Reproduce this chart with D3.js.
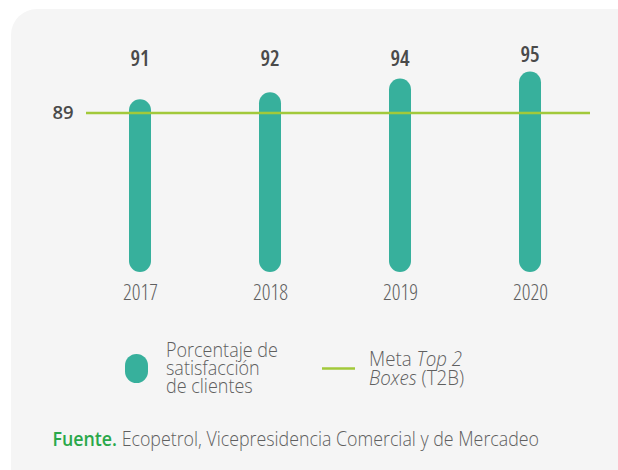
<!DOCTYPE html>
<html>
<head>
<meta charset="utf-8">
<script src="https://cdn.jsdelivr.net/npm/d3@7"></script>
<style>
  html, body { margin: 0; padding: 0; background: #ffffff; }
  svg { display: block; }
  text { font-family: "Open Sans", "Noto Sans", sans-serif; font-stretch: 75%; }
  text.semi { font-stretch: 88%; }
</style>
</head>
<body>
<svg id="chart" width="618" height="470"></svg>
<script>
// Satisfacción de clientes por año
const years = ["2017", "2018", "2019", "2020"];
const satisfaction = [91, 92, 94, 95];
const target = 89;
const legendLabels = [["Porcentaje de", "satisfacción", "de clientes"]];
const sourceLabel = "Fuente.";
const sourceText = " Ecopetrol, Vicepresidencia Comercial y de Mercadeo";

const barColor = "#37b09c";
const lineColor = "#a2c93a";
const numColor = "#4a4a4a";
const textColor = "#5f5f5f";

const svg = d3.select("#chart");

// Narrow a text horizontally so it spans the given width from its anchor x
function fitWidth(sel, ax, width) {
  const k = width / sel.node().getBBox().width;
  sel.attr("transform", `translate(${ax},0) scale(${k},1) translate(${-ax},0)`);
}

// Card background
svg.append("rect")
  .attr("x", 11).attr("y", 9)
  .attr("width", 640).attr("height", 490)
  .attr("rx", 26)
  .attr("fill", "#f5f5f5");

const x = d3.scalePoint().domain(years).range([140, 530]);
const y = d3.scaleLinear().domain([66, 95]).range([272, 71.5]);
const barW = 22;

// Bars with fully rounded ends
svg.append("g").selectAll("rect")
  .data(years.map((yr, i) => ({ yr, v: satisfaction[i] })))
  .join("rect")
  .attr("x", d => x(d.yr) - barW / 2)
  .attr("y", d => y(d.v))
  .attr("width", barW)
  .attr("height", d => y.range()[0] - y(d.v))
  .attr("rx", barW / 2)
  .attr("fill", barColor);

// Target line
svg.append("line")
  .attr("x1", 86).attr("x2", 590)
  .attr("y1", y(target)).attr("y2", y(target))
  .attr("stroke", lineColor)
  .attr("stroke-width", 2.6);

svg.append("text")
  .attr("class", "semi")
  .attr("x", 63).attr("y", y(target) + 6.5)
  .attr("text-anchor", "middle")
  .attr("font-size", 18.5).attr("font-weight", 600)
  .attr("fill", numColor)
  .text(target);

// Value labels
svg.append("g").selectAll("text")
  .data(years.map((yr, i) => ({ yr, v: satisfaction[i] })))
  .join("text")
  .attr("x", d => x(d.yr))
  .attr("y", d => Math.min(65.5, y(d.v) - 10))
  .attr("text-anchor", "middle")
  .attr("font-size", 21.5).attr("font-weight", 600)
  .attr("fill", numColor)
  .text(d => d.v);

// Year axis
const axis = svg.append("g")
  .attr("transform", `translate(0,${300})`)
  .call(d3.axisBottom(x).tickSize(0).tickPadding(0));
axis.select(".domain").remove();
axis.selectAll("text")
  .attr("dy", 0)
  .attr("font-size", 21.5).attr("font-weight", 300)
  .attr("font-family", "\"Open Sans\", sans-serif")
  .style("font-stretch", "75%")
  .attr("fill", textColor);

// Legend: bar symbol
svg.append("rect")
  .attr("x", 125).attr("y", 354)
  .attr("width", 23).attr("height", 29)
  .attr("rx", 11.5)
  .attr("fill", barColor);

const leg1 = svg.append("text")
  .attr("class", "semi")
  .attr("x", 166).attr("y", 357)
  .attr("font-size", 19.5).attr("font-weight", 300)
  .attr("fill", textColor);
legendLabels[0].forEach((t, i) => {
  leg1.append("tspan").attr("x", 166).attr("dy", i === 0 ? 0 : 18).text(t);
});
fitWidth(leg1, 166, 112);

// Legend: target line
svg.append("line")
  .attr("x1", 322).attr("x2", 355)
  .attr("y1", 368.5).attr("y2", 368.5)
  .attr("stroke", lineColor)
  .attr("stroke-width", 2.6);

const leg2 = svg.append("text")
  .attr("class", "semi")
  .attr("x", 369).attr("y", 366.5)
  .attr("font-size", 19.5).attr("font-weight", 300)
  .attr("fill", textColor);
leg2.append("tspan").text("Meta ");
leg2.append("tspan").attr("font-style", "italic").text("Top 2");
leg2.append("tspan").attr("x", 369).attr("dy", 18.5).attr("font-style", "italic").text("Boxes");
leg2.append("tspan").text(" (T2B)");
fitWidth(leg2, 369, 95);

// Source note
const src = svg.append("text")
  .attr("class", "semi")
  .attr("x", 52.5).attr("y", 446.5)
  .attr("font-size", 19.5)
  .attr("fill", textColor);
src.append("tspan").attr("font-weight", 600).attr("fill", "#2aa84a").text(sourceLabel);
src.append("tspan").attr("font-weight", 350).text(sourceText);
fitWidth(src, 52.5, 487);
</script>
</body>
</html>
